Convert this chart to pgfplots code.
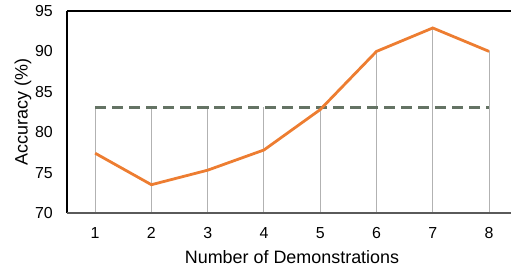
\documentclass[border=0pt]{standalone}
\usepackage{pgfplots}
\pgfplotsset{compat=1.18}
\usepackage{fontspec}
\setmainfont{Liberation Sans}
\definecolor{myorange}{RGB}{237,125,49}
\definecolor{mydash}{RGB}{100,115,100}
\definecolor{dropgray}{RGB}{178,178,178}
\definecolor{axgray}{RGB}{90,90,90}
\begin{document}
\begin{tikzpicture}[x=1bp,y=1bp]
\path[use as bounding box] (-67bp,-53bp) rectangle (444bp,213bp);
\begin{axis}[
  at={(0,0)}, anchor=south west,
  scale only axis, width=444bp, height=202bp,
  xmin=0.5, xmax=8.39, ymin=70, ymax=95,
  separate axis lines,
  axis x line*=box, axis y line*=left,
  x axis line style={black, line width=1.2pt},
  y axis line style={black, line width=1.2pt},
  xtick={1,...,8}, ytick={70,75,...,95},
  major tick length=0pt,
  tick style={draw=none},
  tick label style={font=\fontsize{16}{18}\selectfont},
  xticklabel style={anchor=center, yshift=-20bp},
  yticklabel style={anchor=center, xshift=-23bp},
  /pgf/number format/assume math mode=true,
  xlabel={Number of Demonstrations},
  ylabel={Accuracy (\%)},
  xlabel style={font=\fontsize{18}{20}\selectfont, at={(axis description cs:0.5,0)}, anchor=center, yshift=-44bp, xshift=3bp},
  ylabel style={font=\fontsize{18}{20}\selectfont, at={(axis description cs:0,0.5)}, anchor=center, yshift=44bp},
  clip=false,
]
\addplot[ycomb, draw=dropgray, line width=1pt, no markers] coordinates {
 (1,83.1) (2,83.1) (3,83.1) (4,83.1) (5,83.1) (6,90.0) (7,92.9) (8,90.0)};
\addplot[draw=mydash, line width=2.8pt, dash pattern=on 11bp off 6bp, no markers] coordinates {
 (1,83.1) (2,83.1) (3,83.1) (4,83.1) (5,83.1) (6,83.1) (7,83.1) (8,83.1)};
\addplot[draw=myorange, line width=2.8pt, no markers] coordinates {
 (1,77.4) (2,73.5) (3,75.3) (4,77.8) (5,82.8) (6,90.0) (7,92.9) (8,90.0)};
\draw[axgray, line width=1.5pt] (axis cs:0.5,70) -- (axis cs:8.39,70);
\end{axis}
\end{tikzpicture}
\end{document}
